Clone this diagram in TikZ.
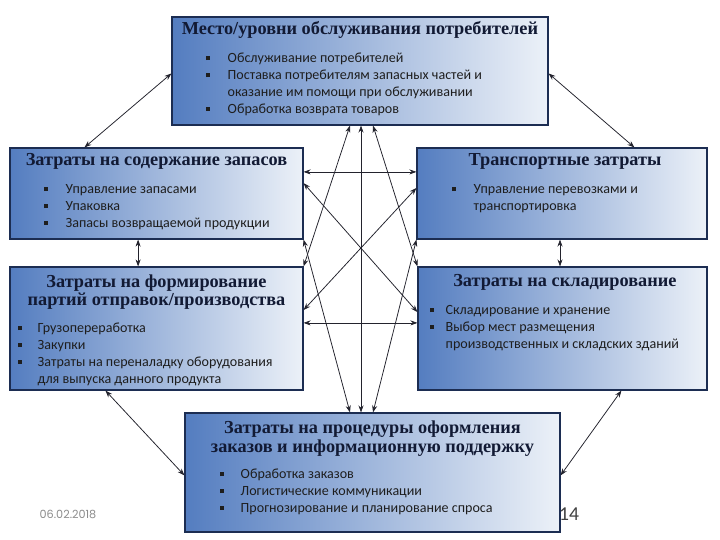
\documentclass[tikz,border=0pt]{standalone}
\usepackage{fontspec}
\setmainfont{Liberation Serif}
\newfontfamily\listfont{Carlito}
\newfontfamily\datefont{Poppins}
\usepackage{xcolor}
\definecolor{boxdark}{RGB}{84,125,192}
\definecolor{boxmid}{RGB}{172,192,224}
\definecolor{boxlight}{RGB}{236,241,248}
\definecolor{boxedge}{RGB}{28,45,82}
\definecolor{ttlcol}{RGB}{18,26,52}
\definecolor{txtcol}{RGB}{30,30,30}
\definecolor{linkcol}{RGB}{35,35,45}
\definecolor{datecol}{RGB}{140,140,140}
\usetikzlibrary{calc, arrows.meta}
\newcommand{\sq}{\rule[0.4ex]{2.8pt}{2.8pt}}

\begin{document}
\begin{tikzpicture}[>={Stealth[length=5pt,width=3.6pt]},
    box/.style={draw=boxedge, line width=0.8pt, left color=boxdark, middle color=boxmid, right color=boxlight, inner sep=0pt},
    ttl/.style={font=\fontsize{13}{13.2}\selectfont\bfseries, text=ttlcol, align=center, inner sep=0pt},
    lst/.style={font=\listfont\fontsize{10}{12}\selectfont, text=txtcol, anchor=base west, inner sep=0pt},
    link/.style={<->, linkcol, line width=0.55pt}]

\useasboundingbox (0,0) rectangle (18,-13.5);

% === Блоки ===
\node[box, minimum width=9.4cm, minimum height=2.7cm] (serv) at (9,-1.775) {};
\node[box, minimum width=7.325cm, minimum height=2.275cm] (stock) at (3.9125,-4.8375) {};
\node[box, minimum width=7.25cm, minimum height=2.275cm] (trans) at (14.05,-4.8375) {};
\node[box, minimum width=7.325cm, minimum height=3.075cm] (disp) at (3.9125,-8.2125) {};
\node[box, minimum width=7.225cm, minimum height=3.075cm] (wh) at (14.0625,-8.2125) {};
\node[box, minimum width=9.375cm, minimum height=2.975cm] (order) at (9.3125,-11.8125) {};

% === Заголовки ===
\node[ttl] (servT) at ([yshift=-0.325cm]serv.north) {Место/уровни обслуживания потребителей};
\node[ttl] (stockT) at ([yshift=-0.35cm]stock.north) {Затраты на содержание запасов};
\node[ttl] (transT) at ([xshift=0.075cm, yshift=-0.35cm]trans.north) {Транспортные затраты};
\node[ttl] (dispT) at ([yshift=-0.64cm]disp.north) {Затраты на формирование\\партий отправок/производства};
\node[ttl] (whT) at ([xshift=0.06cm, yshift=-0.4cm]wh.north) {Затраты на складирование};
\node[ttl] (orderT) at ([yshift=-0.65cm]order.north) {Затраты на процедуры оформления\\заказов и информационную поддержку};

% === Списки ===
\node[lst] (servL) at ($(serv.north west)+(0.85,-1.16)$) {\begin{tabular}[t]{@{}p{0.55cm}@{}l@{}}
    \sq & Обслуживание потребителей\\
    \sq & Поставка потребителям запасных частей и\\
        & оказание им помощи при обслуживании\\
    \sq & Обработка возврата товаров
  \end{tabular}};
\node[lst] (stockL) at ($(stock.north west)+(0.85,-1.16)$) {\begin{tabular}[t]{@{}p{0.55cm}@{}l@{}}
    \sq & Управление запасами\\
    \sq & Упаковка\\
    \sq & Запасы возвращаемой продукции
  \end{tabular}};
\node[lst] (transL) at ($(trans.north west)+(0.875,-1.16)$) {\begin{tabular}[t]{@{}p{0.55cm}@{}l@{}}
    \sq & Управление перевозками и\\
        & транспортировка
  \end{tabular}};
\node[lst] (dispL) at ($(disp.north west)+(0.2,-1.66)$) {\begin{tabular}[t]{@{}p{0.5cm}@{}l@{}}
    \sq & Грузопереработка\\
    \sq & Закупки\\
    \sq & Затраты на переналадку оборудования\\
        & для выпуска данного продукта
  \end{tabular}};
\node[lst] (whL) at ($(wh.north west)+(0.3,-1.21)$) {\begin{tabular}[t]{@{}p{0.4cm}@{}l@{}}
    \sq & Складирование и хранение\\
    \sq & Выбор мест размещения\\
        & производственных и складских зданий
  \end{tabular}};
\node[lst] (orderL) at ($(order.north west)+(0.875,-1.66)$) {\begin{tabular}[t]{@{}p{0.525cm}@{}l@{}}
    \sq & Обработка заказов\\
    \sq & Логистические коммуникации\\
    \sq & Прогнозирование и планирование спроса
  \end{tabular}};

% === Связи ===
% верхний блок с боковыми
\draw[link] ([yshift=-1.425cm]serv.north west) -- ([xshift=1.875cm]stock.north west);
\draw[link] ([yshift=-1.425cm]serv.north east) -- ([xshift=5.45cm]trans.north west);
% нижний блок с боковыми
\draw[link] ([xshift=2.4cm]disp.south west) -- ([yshift=-1.575cm]order.north west);
\draw[link] ([xshift=5.1cm]wh.south west) -- ([yshift=-1.575cm]order.north east);
% центральный пучок
\draw[link] ($(serv.south)+(0.025,0)$) -- ($(serv.south |- order.north)+(0.025,0)$);
\draw[link] ($(serv.south)+(-0.25,0)$) -- (disp.north east);
\draw[link] ($(serv.south)+(0.325,0)$) -- (wh.north west);
\draw[link] ($(serv.south |- order.north)+(-0.25,0)$) -- (stock.south east);
\draw[link] ($(serv.south |- order.north)+(0.325,0)$) -- (trans.south west);
% между боковыми блоками
\draw[link] ($(stock.east)+(0,0.54)$) -- ($(stock.east -| trans.west)+(0,0.54)$);
\draw[link] ($(disp.east)+(0,0.14)$) -- ($(disp.east -| wh.west)+(0,0.14)$);
\draw[link] ($(stock.east)+(0,0.26)$) -- ($(wh.west)+(0,0.41)$);
\draw[link] ($(trans.west)+(0,0.14)$) -- ($(disp.east)+(0,0.46)$);
\draw[link] ($(stock.south)+(-0.46,0)$) -- ($(stock.south |- disp.north)+(-0.46,0)$);
\draw[link] ($(trans.south)+(-0.05,0)$) -- ($(trans.south |- wh.north)+(-0.05,0)$);

% === Дата и номер слайда ===
\node[font=\datefont\fontsize{8}{9}\selectfont, text=datecol] (date) at (1.7,-12.85) {06.02.2018};
\node[font=\listfont\fontsize{14}{16}\selectfont, text=black!75] (page) at (14.225,-12.85) {14};

\end{tikzpicture}
\end{document}
